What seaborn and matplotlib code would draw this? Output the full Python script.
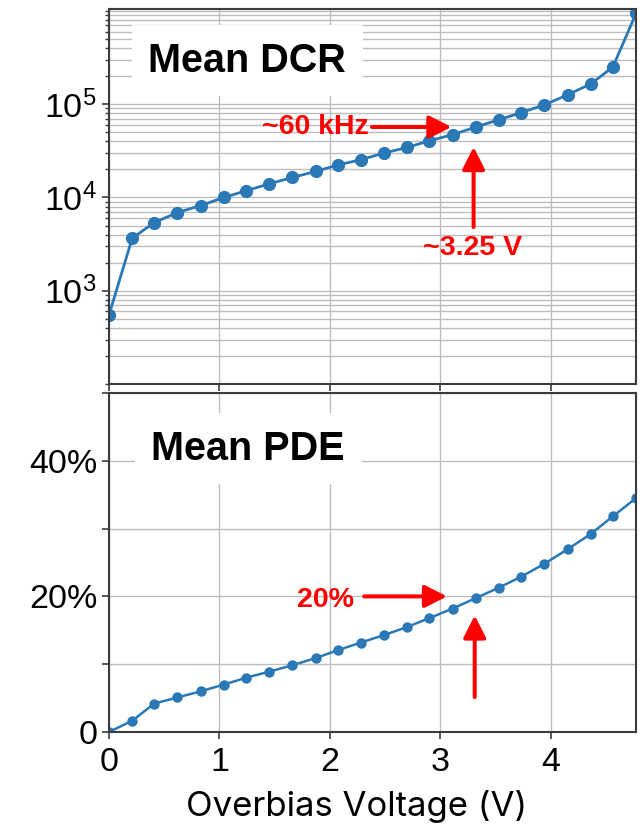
import numpy as np
import pandas as pd
import matplotlib
matplotlib.use("Agg")
import matplotlib.pyplot as plt
import matplotlib.ticker as mticker
import seaborn as sns

# ---- data ----
voltage = [0.00, 0.21, 0.41, 0.62, 0.83, 1.04, 1.24, 1.45, 1.66, 1.87, 2.07, 2.28,
           2.49, 2.70, 2.90, 3.11, 3.32, 3.53, 3.73, 3.94, 4.15, 4.36, 4.56, 4.77]
dcr_hz = [550, 3660, 5390, 6900, 8200, 10000, 11800, 14000, 16400, 19000, 22300, 25400,
          30000, 34400, 40600, 47100, 57000, 68300, 81200, 98400, 126000, 165000, 250000, 940000]
pde = [0.0, 0.0166, 0.042, 0.051, 0.060, 0.070, 0.080, 0.089, 0.0985, 0.109, 0.1206, 0.132,
       0.143, 0.155, 0.168, 0.182, 0.1975, 0.213, 0.229, 0.248, 0.2695, 0.292, 0.318, 0.345]

dcr_ticks = [1e3, 1e4, 1e5]
dcr_ticklabels = [r"$10^{3}$", r"$10^{4}$", r"$10^{5}$"]
pde_ticks = [0.0, 0.2, 0.4]
pde_ticklabels = ["0", "20%", "40%"]
x_ticks = [0, 1, 2, 3, 4]

df = pd.DataFrame({"V": voltage, "DCR": dcr_hz, "PDE": pde})

sns.set_style("ticks")
plt.rcParams["font.family"] = ["Liberation Sans", "DejaVu Sans"]
plt.rcParams["mathtext.fontset"] = "custom"
plt.rcParams["mathtext.rm"] = "Liberation Sans"
plt.rcParams["mathtext.it"] = "Liberation Sans"
plt.rcParams["mathtext.bf"] = "Liberation Sans:bold"
for k in ["text.color", "axes.labelcolor", "xtick.labelcolor", "ytick.labelcolor"]:
    plt.rcParams[k] = "black"

W, H = 643, 830
fig = plt.figure(figsize=(W / 100, H / 100), dpi=100)

def frac(l, t, r, b):
    return [l / W, 1 - b / H, (r - l) / W, (b - t) / H]

ax1 = fig.add_axes(frac(109, 9, 636, 384))
ax2 = fig.add_axes(frac(109, 393, 636, 732))

blue = "#2a78b5"
spine_c = "#3c3c3c"
grid_c = "#bdbdbd"

# ---- top: DCR ----
sns.lineplot(data=df, x="V", y="DCR", ax=ax1, color=blue, marker="o",
             markersize=9.5, markeredgewidth=0, linewidth=2)
ax1.set_yscale("log")
ax1.set_ylim(100, 1.05e6)
ax1.set_xlim(0, voltage[-1])
ax1.yaxis.set_major_locator(mticker.FixedLocator(dcr_ticks))
ax1.yaxis.set_major_formatter(mticker.FixedFormatter(dcr_ticklabels))
ax1.yaxis.set_minor_locator(mticker.LogLocator(base=10, subs=np.arange(1, 10), numticks=20))
ax1.yaxis.set_minor_formatter(mticker.NullFormatter())
ax1.set_xticks(x_ticks)
ax1.set_xticklabels([])
ax1.grid(True, which="major", axis="x", color=grid_c, lw=1)
ax1.grid(True, which="both", axis="y", color=grid_c, lw=1)
ax1.set_xlabel("")
ax1.set_ylabel("")
ax1.tick_params(axis="y", which="major", labelsize=24.5, length=5, width=1.2, color=spine_c, pad=4)
ax1.tick_params(axis="y", which="minor", length=3, width=1, color=spine_c)
ax1.tick_params(axis="x", length=5, width=1.2, color=spine_c)
for s in ax1.spines.values():
    s.set_color(spine_c)
    s.set_linewidth(1.5)

ax1.text(0.262, 0.862, "Mean DCR", transform=ax1.transAxes, fontsize=28.5,
         fontweight="bold", ha="center", va="center", zorder=5,
         bbox=dict(boxstyle="square,pad=0.42", fc="white", ec="none"))

red = "#ff0000"
arrow_kw = dict(arrowstyle="-|>,head_length=0.75,head_width=0.38", color=red,
                lw=2.9, mutation_scale=18, shrinkA=0, shrinkB=0)
ax1.text(1.87, 57000, "~60 kHz", color=red, fontsize=20.5, fontweight="bold",
         ha="center", va="center", zorder=6)
ax1.annotate("", xy=(3.10, 57000), xytext=(2.38, 57000), arrowprops=arrow_kw, zorder=6)
ax1.annotate("", xy=(3.30, 34800), xytext=(3.30, 4820), arrowprops=arrow_kw, zorder=6)
ax1.text(3.29, 2870, "~3.25 V", color=red, fontsize=20.5, fontweight="bold",
         ha="center", va="center", zorder=6)

# ---- bottom: PDE ----
sns.lineplot(data=df, x="V", y="PDE", ax=ax2, color=blue, marker="o",
             markersize=7.5, markeredgewidth=0, linewidth=1.8)
ax2.set_ylim(0, 0.5)
ax2.set_xlim(0, voltage[-1])
ax2.set_yticks(pde_ticks)
ax2.set_yticklabels(pde_ticklabels)
ax2.set_yticks([0.1, 0.3, 0.5], minor=True)
ax2.set_xticks(x_ticks)
ax2.set_xticklabels([str(v) for v in x_ticks])
ax2.grid(True, which="major", axis="x", color=grid_c, lw=1)
ax2.grid(True, which="both", axis="y", color=grid_c, lw=1)
ax2.tick_params(axis="both", which="major", labelsize=24.5, length=5, width=1.2, color=spine_c)
ax2.tick_params(axis="y", which="minor", length=5, width=1.2, color=spine_c)
ax2.tick_params(axis="x", pad=6)
ax2.set_ylabel("")
ax2.set_xlabel("Overbias Voltage (V)", fontsize=25, family=["Inter", "DejaVu Sans"])
ax2.xaxis.set_label_coords(0.47, -0.172)
for s in ax2.spines.values():
    s.set_color(spine_c)
    s.set_linewidth(1.5)

ax2.text(0.264, 0.836, "Mean PDE", transform=ax2.transAxes, fontsize=28.5,
         fontweight="bold", ha="center", va="center", zorder=5,
         bbox=dict(boxstyle="square,pad=0.42", fc="white", ec="none"))

ax2.text(1.96, 0.194, "20%", color=red, fontsize=20.5, fontweight="bold",
         ha="center", va="center", zorder=6)
ax2.annotate("", xy=(3.06, 0.2), xytext=(2.31, 0.2), arrowprops=arrow_kw, zorder=6)
ax2.annotate("", xy=(3.31, 0.172), xytext=(3.31, 0.0515), arrowprops=arrow_kw, zorder=6)

fig.savefig("out.png", dpi=100)
